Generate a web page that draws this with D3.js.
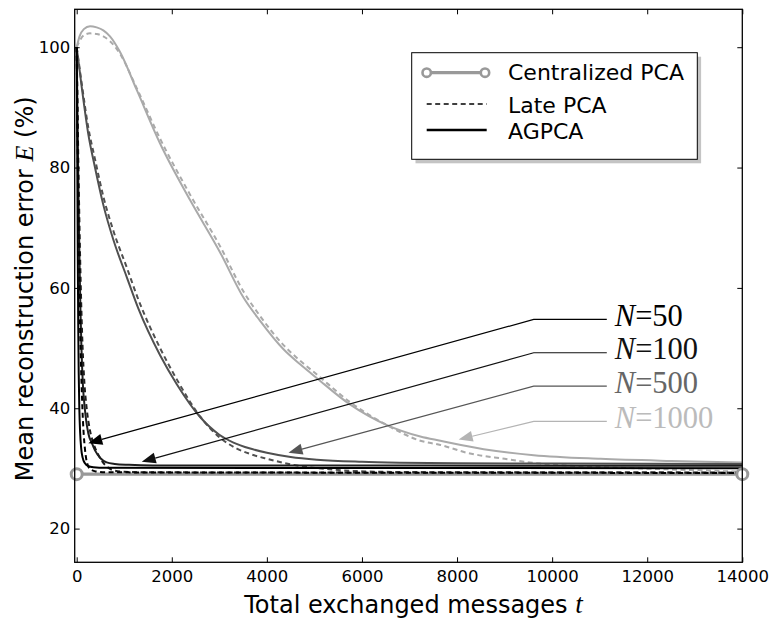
<!DOCTYPE html>
<html><head><meta charset="utf-8">
<script src="https://cdn.jsdelivr.net/npm/d3@7"></script>
<style>body{margin:0;background:#fff} svg{display:block}</style>
</head><body><svg id="c" width="772" height="622"></svg>
<script>
// ---------- data ----------
const xTicks = [0, 2000, 4000, 6000, 8000, 10000, 12000, 14000];
const yTicks = [20, 40, 60, 80, 100];
const centralizedT = [0, 14000];
const centralizedE = [29.05, 29.05];

const n50Agpca = [[0,100],[8,88],[16,76],[24,64],[32,54],[42,46],[55,40],[72,36],[95,33.3],[125,31.8],[170,30.9],[240,30.4],[350,30.2],[600,30.1],[14000,30.05]];
const n50Late  = [[0,100],[15,88],[30,76],[50,64],[70,54],[95,46],[120,40],[145,36],[170,33.5],[200,31.6],[240,30.4],[300,29.8],[400,29.5],[700,29.35],[14000,29.25]];
const n100Agpca = [[0,100],[20,86],[40,74],[60,64],[80,56],[100,50],[130,44],[170,40],[245,35.8],[320,34.2],[385,33],[500,31.7],[630,31.0],[800,30.75],[1100,30.6],[1600,30.5],[14000,30.45]];
const n100Late  = [[0,100],[25,86],[50,74],[75,64],[100,56],[125,50],[160,44.5],[210,40],[280,36.3],[360,34],[440,32.5],[526,31.3],[650,30.2],[771,29.7],[1000,29.45],[1500,29.35],[14000,29.3]];
const n500Agpca = [[0,100],[105,93.4],[245,85.5],[385,80],[560,73.8],[771,68],[1053,61.8],[1300,56.5],[1754,48.8],[2105,44],[2600,38.5],[3000,35.6],[3297,34.3],[3650,33.3],[4000,32.6],[4500,31.9],[5053,31.45],[6000,31.1],[6806,30.95],[8000,30.85],[10000,30.8],[14000,30.75]];
const n500Late  = [[0,100],[105,94],[245,86.6],[385,81.4],[560,75.2],[771,69.5],[1053,63.4],[1300,58],[1754,50],[2105,44.8],[2600,38.6],[3000,35.2],[3368,33.3],[3650,32.4],[4000,31.6],[4700,30.4],[5400,29.8],[6100,29.5],[7000,29.4],[9000,29.35],[14000,29.3]];
const n1000Agpca = [[0,100],[60,101.8],[150,103.0],[280,103.5],[420,103.3],[560,102.8],[700,101.8],[912,99.2],[1263,92.9],[1754,84],[2385,74.6],[3017,65.9],[3508,58.4],[3850,54.6],[4350,49.8],[4700,47.3],[5053,45.0],[5754,40.6],[6526,37.2],[7228,35.3],[7650,34.6],[8560,33.2],[9613,32.2],[11017,31.6],[12500,31.25],[14000,31.0]];
const n1000Late  = [[0,100],[60,101.0],[150,102.0],[280,102.3],[420,102.2],[560,101.8],[700,101.0],[912,98.9],[1263,93.2],[1754,84.8],[2385,75.5],[3017,66.9],[3508,59.4],[3850,55.4],[4350,50.5],[4700,47.9],[5053,45.6],[5754,41.0],[6526,37.2],[7228,34.6],[7650,33.9],[8210,32.6],[9000,31.6],[9752,30.8],[10800,30.3],[11860,30.0],[13000,29.7],[14000,29.45]];

const seriesNames = ["50", "100", "500", "1000"];
// annotation arrow tip and elbow (data units), label line end t
const annTips   = [[244, 34.2], [1368, 31.1], [4455, 32.6], [8034, 34.8]];
const annElbows = [[9613, 54.77], [9613, 49.22], [9613, 43.68], [9613, 37.82]];
const annLabelT = 11150;

const legendLabels = ["Centralized PCA", "Late PCA", "AGPCA"];

// ---------- styles ----------
const curveColors = ["#000000", "#1e1e1e", "#505050", "#aaaaaa"];
const annColors   = ["#000000", "#111111", "#555555", "#b4b4b4"];
const labelColors = ["#000000", "#111111", "#666666", "#bbbbbb"];

// ---------- layout ----------
const L = 74.7, R = 742.3, T = 9.3, B = 562.3;
const svg = d3.select("#c");
const x = d3.scaleLinear().domain([-42, 14000]).range([L, R]);
const y = d3.scaleLinear().domain([14.4, 106.3]).range([B, T]);

svg.append("defs").append("clipPath").attr("id","clip")
  .append("rect").attr("x",L).attr("y",T).attr("width",R-L).attr("height",B-T);

const font = "'DejaVu Sans', sans-serif";

// centralized line
const plot = svg.append("g").attr("clip-path","url(#clip)");
const line = d3.line().x(d=>x(d[0])).y(d=>y(d[1])).curve(d3.curveMonotoneX);
plot.append("path")
  .attr("d", d3.line()(centralizedT.map((t,i)=>[x(t), y(centralizedE[i])])))
  .attr("stroke","#999").attr("stroke-width",3.2).attr("fill","none");

const agpca = [n50Agpca, n100Agpca, n500Agpca, n1000Agpca];
const late  = [n50Late, n100Late, n500Late, n1000Late];
for (let i = 3; i >= 0; i--) {
  plot.append("path").attr("d", line(late[i])).attr("fill","none")
    .attr("stroke", curveColors[i]).attr("stroke-width", 2)
    .attr("stroke-dasharray","5,3.5");
  plot.append("path").attr("d", line(agpca[i])).attr("fill","none")
    .attr("stroke", curveColors[i]).attr("stroke-width", 2);
}

// markers
svg.selectAll("circle.cm").data(centralizedT).enter().append("circle")
  .attr("cx", t=>x(t)).attr("cy", (t,i)=>y(centralizedE[i])).attr("r",5.5)
  .attr("fill","#fff").attr("stroke","#999").attr("stroke-width",3);

// annotations
seriesNames.forEach((n,i)=>{
  const tip = [x(annTips[i][0]), y(annTips[i][1])];
  const elb = [x(annElbows[i][0]), y(annElbows[i][1])];
  const end = [x(annLabelT), elb[1]];
  const ang = Math.atan2(tip[1]-elb[1], tip[0]-elb[0]);
  const hl = 14, hw = 5.5;
  const base = [tip[0]-hl*Math.cos(ang), tip[1]-hl*Math.sin(ang)];
  svg.append("path").attr("d", d3.line()([end, elb, base]))
    .attr("fill","none").attr("stroke", annColors[i]).attr("stroke-width",1.2);
  const p1 = [base[0]+hw*Math.sin(ang), base[1]-hw*Math.cos(ang)];
  const p2 = [base[0]-hw*Math.sin(ang), base[1]+hw*Math.cos(ang)];
  svg.append("path").attr("d", d3.line()([tip,p1,p2]) + "Z").attr("fill", annColors[i]);
  const tx = svg.append("text").attr("x", end[0]+8).attr("y", elb[1]+6.5)
    .attr("font-family","'Liberation Serif', serif").attr("font-size",30.5)
    .attr("fill", labelColors[i]);
  tx.append("tspan").attr("font-style","italic").text("N");
  tx.append("tspan").text("=" + n);
});

// axes
const gx = svg.append("g").attr("transform",`translate(0,${B})`)
  .call(d3.axisBottom(x).tickValues(xTicks).tickSize(-5).tickPadding(7.5).tickFormat(d3.format("d")));
const gxt = svg.append("g").attr("transform",`translate(0,${T})`)
  .call(d3.axisTop(x).tickValues(xTicks).tickSize(-5).tickFormat(""));
const gy = svg.append("g").attr("transform",`translate(${L},0)`)
  .call(d3.axisLeft(y).tickValues(yTicks).tickSize(-5).tickPadding(4.5));
const gyr = svg.append("g").attr("transform",`translate(${R},0)`)
  .call(d3.axisRight(y).tickValues(yTicks).tickSize(-5).tickFormat(""));
[gx,gxt,gy,gyr].forEach(g=>{
  g.select(".domain").remove();
  g.selectAll("line").attr("stroke","#000").attr("stroke-width",1);
  g.selectAll("text").attr("font-family",font).attr("font-size",16.5).attr("fill","#000");
});
svg.append("rect").attr("x",L).attr("y",T).attr("width",R-L).attr("height",B-T)
  .attr("fill","none").attr("stroke","#000").attr("stroke-width",1.3);

// axis labels
const xl = svg.append("text").attr("x",(L+R)/2+5).attr("y",613).attr("text-anchor","middle")
  .attr("font-family",font).attr("font-size",24);
xl.append("tspan").text("Total exchanged messages ");
xl.append("tspan").attr("font-family","'Liberation Serif', serif").attr("font-style","italic").attr("font-size",27).text("t");
const yl = svg.append("text").attr("transform",`translate(33,${(T+B)/2+3}) rotate(-90)`)
  .attr("text-anchor","middle").attr("font-family",font).attr("font-size",24);
yl.append("tspan").text("Mean reconstruction error ");
yl.append("tspan").attr("font-family","'Liberation Serif', serif").attr("font-style","italic").attr("font-size",26).text("E");
yl.append("tspan").text(" (%)");

// legend
const lg = svg.append("g");
lg.append("rect").attr("x",415.5).attr("y",56.7).attr("width",285.6).attr("height",106.6).attr("fill","#c4c4c4");
lg.append("rect").attr("x",411.7).attr("y",52.7).attr("width",285.6).attr("height",106.6)
  .attr("fill","#fff").attr("stroke","#000").attr("stroke-width",1);
lg.append("line").attr("x1",426.7).attr("x2",485).attr("y1",72.7).attr("y2",72.7).attr("stroke","#999").attr("stroke-width",3.2);
[426.7,485].forEach(cx=>lg.append("circle").attr("cx",cx).attr("cy",72.7).attr("r",4.2)
  .attr("fill","#fff").attr("stroke","#999").attr("stroke-width",2.6));
lg.append("line").attr("x1",426.7).attr("x2",486.7).attr("y1",104).attr("y2",104).attr("stroke","#000").attr("stroke-width",1.5).attr("stroke-dasharray","5,3.5");
lg.append("line").attr("x1",426.7).attr("x2",486.7).attr("y1",130).attr("y2",130).attr("stroke","#000").attr("stroke-width",2.5);
const legY = [80, 112.5, 138.5];
legendLabels.forEach((s,i)=>lg.append("text").attr("x",508).attr("y",legY[i])
  .attr("font-family",font).attr("font-size",22).text(s));
</script></body></html>
